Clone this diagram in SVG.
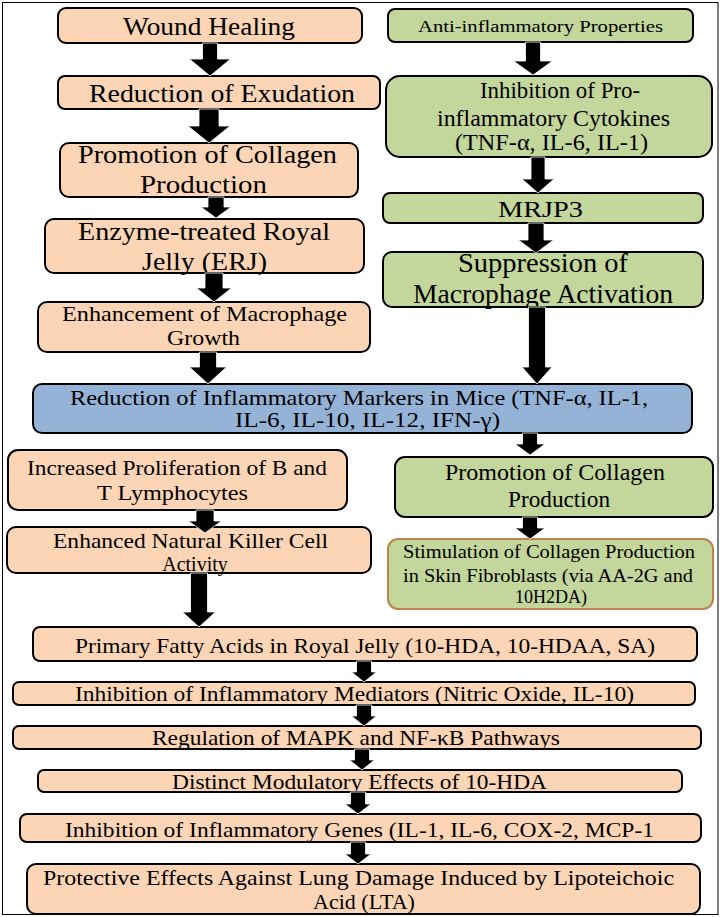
<svg xmlns="http://www.w3.org/2000/svg" width="724" height="917" viewBox="0 0 724 917">
<style>
.bx{stroke:#000;stroke-width:2}
.p{fill:#fbd5b5}
.g{fill:#c3d69b}
.b{fill:#95b3d7}
.t{font-family:"Liberation Serif","Times New Roman",serif;fill:#000;text-anchor:middle}
.ar{fill:#000;stroke:#fff;stroke-width:0.8}
</style>
<rect x="0" y="0" width="724" height="917" fill="#fff"/>
<rect x="2.5" y="2.5" width="715.5" height="912" fill="none" stroke="#000" stroke-width="1"/>

<g id="n-wound">
<rect class="bx p" x="58" y="8" width="304" height="35" rx="8"/>
<text class="t" x="209" y="35" font-size="25" textLength="172" lengthAdjust="spacingAndGlyphs">Wound Healing</text>
</g>
<g id="n-exudation">
<rect class="bx p" x="58" y="76" width="322" height="33" rx="7"/>
<text class="t" x="222" y="102" font-size="25" textLength="266" lengthAdjust="spacingAndGlyphs">Reduction of Exudation</text>
</g>
<g id="n-collagen-left">
<rect class="bx p" x="60" y="143" width="298" height="54" rx="9"/>
<text class="t" x="207.5" y="163" font-size="26" textLength="259" lengthAdjust="spacingAndGlyphs">Promotion of Collagen</text>
<text class="t" x="203.5" y="193" font-size="26" textLength="127" lengthAdjust="spacingAndGlyphs">Production</text>
</g>
<g id="n-erj">
<rect class="bx p" x="45" y="219" width="319" height="54" rx="9"/>
<text class="t" x="204" y="240" font-size="26" textLength="252" lengthAdjust="spacingAndGlyphs">Enzyme-treated Royal</text>
<text class="t" x="204.5" y="270" font-size="26" textLength="125" lengthAdjust="spacingAndGlyphs">Jelly (ERJ)</text>
</g>
<g id="n-macrophage-growth">
<rect class="bx p" x="38" y="302" width="332" height="50" rx="9"/>
<text class="t" x="204.5" y="321" font-size="22" textLength="285" lengthAdjust="spacingAndGlyphs">Enhancement of Macrophage</text>
<text class="t" x="203.5" y="345" font-size="22" textLength="73" lengthAdjust="spacingAndGlyphs">Growth</text>
</g>

<g id="n-anti">
<rect class="bx g" x="388" y="9" width="305" height="33" rx="7"/>
<text class="t" x="540.5" y="32" font-size="17" textLength="245" lengthAdjust="spacingAndGlyphs">Anti-inflammatory Properties</text>
</g>
<g id="n-cytokines">
<rect class="bx g" x="386" y="76" width="326" height="81" rx="14"/>
<text class="t" x="560" y="98" font-size="24" textLength="160" lengthAdjust="spacingAndGlyphs">Inhibition of Pro-</text>
<text class="t" x="553.5" y="126" font-size="24" textLength="233" lengthAdjust="spacingAndGlyphs">inflammatory Cytokines</text>
<text class="t" x="551.5" y="150" font-size="24" textLength="193" lengthAdjust="spacingAndGlyphs">(TNF-α, IL-6, IL-1)</text>
</g>
<g id="n-mrjp3">
<rect class="bx g" x="383" y="193" width="320" height="30" rx="7"/>
<text class="t" x="540.5" y="217" font-size="24" textLength="85" lengthAdjust="spacingAndGlyphs">MRJP3</text>
</g>
<g id="n-suppression">
<rect class="bx g" x="383" y="252" width="320" height="55" rx="9"/>
<text class="t" x="543" y="272" font-size="27" textLength="170" lengthAdjust="spacingAndGlyphs">Suppression of</text>
<text class="t" x="543" y="303" font-size="27" textLength="260" lengthAdjust="spacingAndGlyphs">Macrophage Activation</text>
</g>

<g id="n-markers">
<rect class="bx b" x="33" y="384" width="659" height="49" rx="9"/>
<text class="t" x="359" y="405" font-size="21" textLength="578" lengthAdjust="spacingAndGlyphs">Reduction of Inflammatory Markers in Mice (TNF-α, IL-1,</text>
<text class="t" x="367.5" y="427" font-size="21" textLength="265" lengthAdjust="spacingAndGlyphs">IL-6, IL-10, IL-12, IFN-γ)</text>
</g>

<g id="n-collagen-right">
<rect class="bx g" x="395" y="457" width="318" height="60" rx="10"/>
<text class="t" x="555" y="480" font-size="24" textLength="220" lengthAdjust="spacingAndGlyphs">Promotion of Collagen</text>
<text class="t" x="559" y="507" font-size="24" textLength="102" lengthAdjust="spacingAndGlyphs">Production</text>
</g>
<g id="n-fibroblasts">
<rect x="388" y="539" width="325" height="70" rx="10" fill="#c3d69b" stroke="#b9834b" stroke-width="2"/>
<text class="t" x="549" y="558" font-size="18" textLength="292" lengthAdjust="spacingAndGlyphs">Stimulation of Collagen Production</text>
<text class="t" x="548" y="582" font-size="18" textLength="290" lengthAdjust="spacingAndGlyphs">in Skin Fibroblasts (via AA-2G and</text>
<text class="t" x="551" y="603" font-size="18" textLength="72" lengthAdjust="spacingAndGlyphs">10H2DA)</text>
</g>

<g id="n-lymphocytes">
<rect class="bx p" x="8" y="450" width="339" height="60" rx="10"/>
<text class="t" x="177" y="475" font-size="21" textLength="300" lengthAdjust="spacingAndGlyphs">Increased Proliferation of B and</text>
<text class="t" x="172.5" y="500" font-size="21" textLength="151" lengthAdjust="spacingAndGlyphs">T Lymphocytes</text>
</g>
<g id="n-nk">
<rect class="bx p" x="7" y="527" width="364" height="46" rx="9"/>
<text class="t" x="190.5" y="548" font-size="21" textLength="275" lengthAdjust="spacingAndGlyphs">Enhanced Natural Killer Cell</text>
<text class="t" x="195" y="570.5" font-size="20">Activity</text>
</g>

<g id="n-fatty-acids">
<rect class="bx p" x="33" y="627" width="664" height="34" rx="7"/>
<text class="t" x="365" y="653" font-size="22" textLength="580" lengthAdjust="spacingAndGlyphs">Primary Fatty Acids in Royal Jelly (10-HDA, 10-HDAA, SA)</text>
</g>
<g id="n-mediators">
<rect class="bx p" x="13" y="682" width="682" height="23" rx="6"/>
<text class="t" x="354.5" y="701" font-size="22" textLength="559" lengthAdjust="spacingAndGlyphs">Inhibition of Inflammatory Mediators (Nitric Oxide, IL-10)</text>
</g>
<g id="n-mapk">
<rect class="bx p" x="13" y="726" width="688" height="23" rx="6"/>
<text class="t" x="356" y="745" font-size="22" textLength="408" lengthAdjust="spacingAndGlyphs">Regulation of MAPK and NF-κB Pathways</text>
</g>
<g id="n-10hda">
<rect class="bx p" x="38" y="770" width="644" height="22" rx="6"/>
<text class="t" x="359.5" y="789" font-size="22" textLength="375" lengthAdjust="spacingAndGlyphs">Distinct Modulatory Effects of 10-HDA</text>
</g>
<g id="n-genes">
<rect class="bx p" x="20" y="814" width="681" height="28" rx="7"/>
<text class="t" x="359.5" y="837" font-size="22" textLength="589" lengthAdjust="spacingAndGlyphs">Inhibition of Inflammatory Genes (IL-1, IL-6, COX-2, MCP-1</text>
</g>
<g id="n-lung">
<rect class="bx p" x="27" y="864" width="673" height="50" rx="9"/>
<text class="t" x="358.5" y="885" font-size="22" textLength="631" lengthAdjust="spacingAndGlyphs">Protective Effects Against Lung Damage Induced by Lipoteichoic</text>
<text class="t" x="364" y="909" font-size="22">Acid (LTA)</text>
</g>

<g id="connectors">
<polygon class="ar" points="202.5,43 217.5,43 217.5,59 230.5,59 210,76 189.5,59 202.5,59"/>
<polygon class="ar" points="199,109 219,109 219,126 230,126 209,143 188,126 199,126"/>
<polygon class="ar" points="208,197 224,197 224,207 231,207 216,218 201,207 208,207"/>
<polygon class="ar" points="205,273 223,273 223,288 231.5,288 214,302 196.5,288 205,288"/>
<polygon class="ar" points="199.5,352 216.5,352 216.5,367 226.5,367 208,384 189.5,367 199.5,367"/>
<polygon class="ar" points="525.5,42 540.5,42 540.5,61 552.5,61 533,75 513.5,61 525.5,61"/>
<polygon class="ar" points="531,157 545,157 545,179 554,179 538,193 522,179 531,179"/>
<polygon class="ar" points="528,223 544,223 544,240 553.5,240 536,253 518.5,240 528,240"/>
<polygon class="ar" points="528.5,307 545.5,307 545.5,367 552,367 537,384 522,367 528.5,367"/>
<polygon class="ar" points="522.5,433 537.5,433 537.5,444 545,444 530,455 515,444 522.5,444"/>
<polygon class="ar" points="522.5,517 537.5,517 537.5,528 545,528 530,539 515,528 522.5,528"/>
<polygon class="ar" points="196,510 214,510 214,521 221.5,521 205,533 188.5,521 196,521"/>
<polygon class="ar" points="190.5,573 207.5,573 207.5,612 215.5,612 199,627 182.5,612 190.5,612"/>
<polygon class="ar" points="356.5,661 371.5,661 371.5,672 376.5,672 364,682 351.5,672 356.5,672"/>
<polygon class="ar" points="356.5,705 371.5,705 371.5,716 376.5,716 364,726 351.5,716 356.5,716"/>
<polygon class="ar" points="354.5,749 369.5,749 369.5,760 374.5,760 362,770 349.5,760 354.5,760"/>
<polygon class="ar" points="350.5,792 365.5,792 365.5,804 371,804 358,814 345,804 350.5,804"/>
<polygon class="ar" points="350.5,842 365.5,842 365.5,854 371,854 358,864 345,854 350.5,854"/>
</g>
</svg>
